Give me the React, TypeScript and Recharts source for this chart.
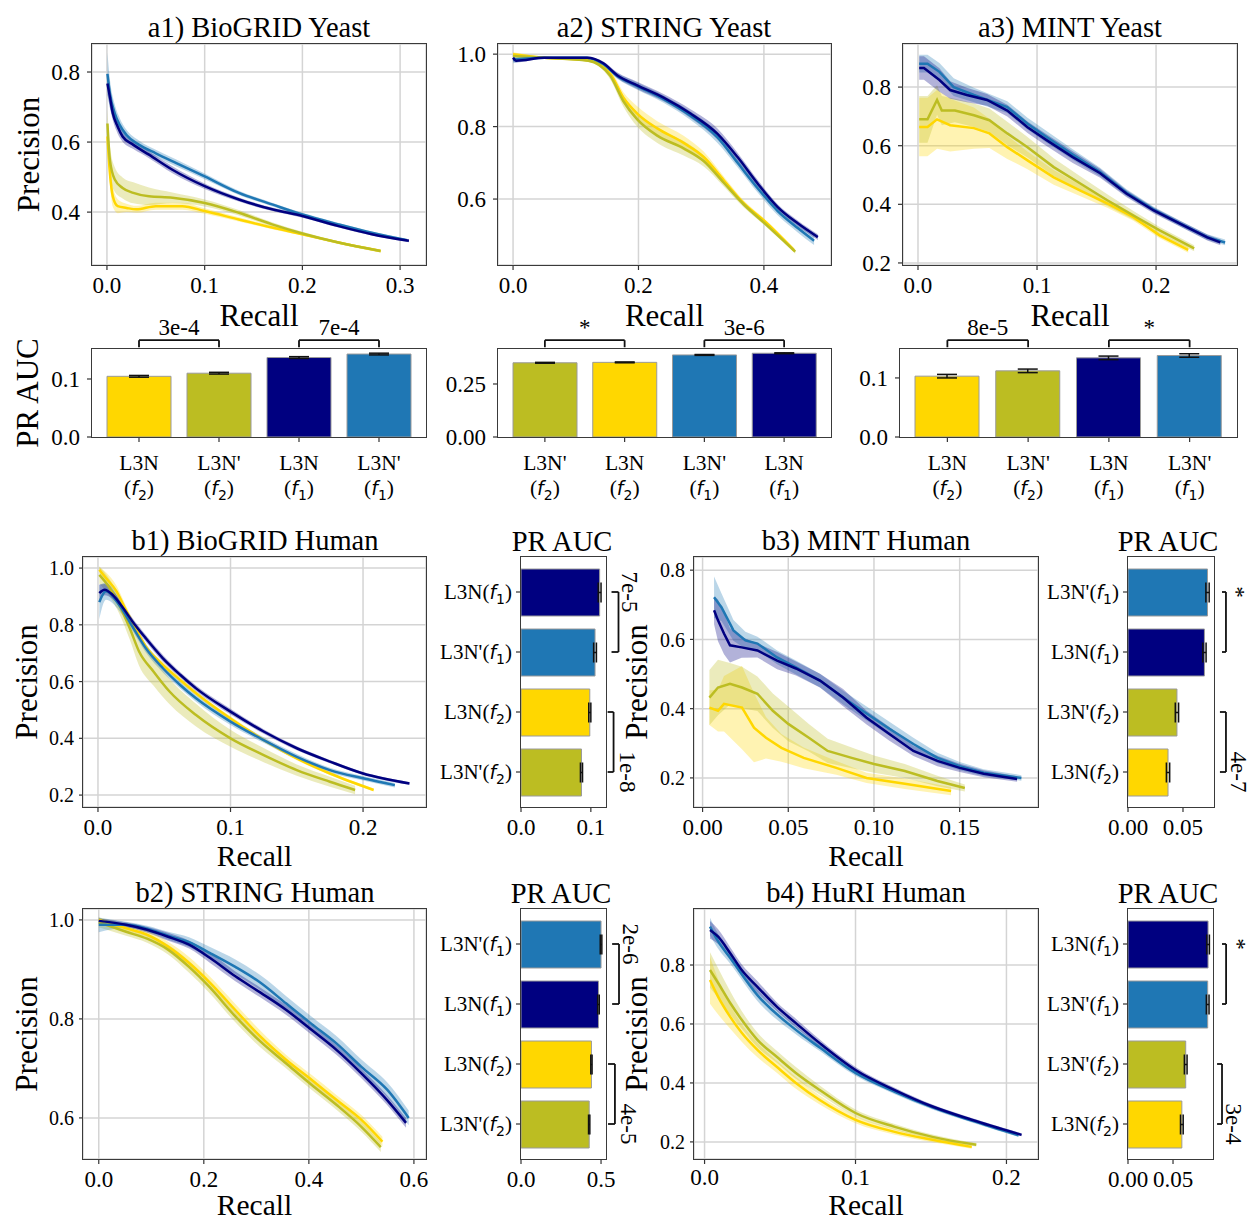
import React from 'react';
import {
  ComposedChart, BarChart, Bar, Line, Area, XAxis, YAxis, CartesianGrid, Cell,
  ErrorBar, ReferenceLine, ReferenceDot,
} from 'recharts';

const FONT = '"Liberation Serif", "Times New Roman", Times, serif';
const MATH = '"DejaVu Sans", sans-serif';

const COLOR: Record<string, string> = {
  "L3N(f1)": '#000080',
  "L3N'(f1)": '#1f77b4',
  "L3N(f2)": '#ffd700',
  "L3N'(f2)": '#bcbd22',
};
// drawing order of the curves (last one on top)
const DRAW_ORDER = ["L3N(f2)", "L3N'(f2)", "L3N'(f1)", "L3N(f1)"];

type Pt = [number, number, number]; // recall, precision, std

// --- a1) BioGRID Yeast ---
const a1_L3N_f2: Pt[] = [[0.0005, 0.616, 0.03], [0.003, 0.512, 0.03], [0.006, 0.445, 0.03], [0.011, 0.417, 0.02], [0.02, 0.412, 0.012], [0.03, 0.408, 0.01], [0.05, 0.417, 0.01], [0.077, 0.417, 0.01], [0.1, 0.403, 0.008], [0.135, 0.379, 0.006], [0.169, 0.356, 0.005], [0.2, 0.337, 0.004], [0.237, 0.313, 0.004], [0.28, 0.289, 0.004]];
const a1_L3Np_f2: Pt[] = [[0.0005, 0.653, 0.04], [0.003, 0.549, 0.04], [0.008, 0.493, 0.035], [0.016, 0.469, 0.03], [0.027, 0.455, 0.03], [0.043, 0.445, 0.025], [0.067, 0.441, 0.015], [0.1, 0.426, 0.01], [0.135, 0.398, 0.008], [0.169, 0.365, 0.006], [0.2, 0.339, 0.005], [0.237, 0.313, 0.004], [0.28, 0.289, 0.004]];
const a1_L3N_f1: Pt[] = [[0.0005, 0.767, 0.03], [0.003, 0.729, 0.03], [0.006, 0.682, 0.02], [0.011, 0.644, 0.02], [0.016, 0.616, 0.015], [0.027, 0.592, 0.012], [0.043, 0.564, 0.01], [0.067, 0.521, 0.01], [0.1, 0.474, 0.008], [0.135, 0.436, 0.006], [0.169, 0.408, 0.005], [0.2, 0.389, 0.005], [0.237, 0.36, 0.004], [0.271, 0.337, 0.004], [0.309, 0.318, 0.004]];
const a1_L3Np_f1: Pt[] = [[0.0005, 0.795, 0.06], [0.003, 0.739, 0.04], [0.008, 0.682, 0.025], [0.013, 0.649, 0.02], [0.02, 0.62, 0.015], [0.033, 0.592, 0.012], [0.05, 0.568, 0.01], [0.071, 0.54, 0.01], [0.1, 0.502, 0.008], [0.135, 0.455, 0.006], [0.169, 0.422, 0.005], [0.2, 0.393, 0.005], [0.237, 0.365, 0.004], [0.271, 0.341, 0.004], [0.307, 0.32, 0.004]];

// --- a2) STRING Yeast ---
const a2_L3N_f2: Pt[] = [[0, 1.0, 0.005], [0.05, 0.99, 0.003], [0.12, 0.983, 0.004], [0.155, 0.946, 0.01], [0.176, 0.88, 0.015], [0.198, 0.836, 0.02], [0.23, 0.795, 0.02], [0.272, 0.755, 0.02], [0.304, 0.716, 0.015], [0.336, 0.652, 0.01], [0.368, 0.588, 0.008], [0.4, 0.541, 0.006], [0.448, 0.459, 0.006]];
const a2_L3Np_f2: Pt[] = [[0, 0.995, 0.005], [0.05, 0.99, 0.003], [0.12, 0.982, 0.004], [0.155, 0.94, 0.01], [0.176, 0.87, 0.015], [0.198, 0.82, 0.02], [0.23, 0.775, 0.02], [0.272, 0.74, 0.02], [0.304, 0.705, 0.015], [0.336, 0.645, 0.01], [0.368, 0.585, 0.008], [0.4, 0.535, 0.006], [0.45, 0.455, 0.006]];
const a2_L3N_f1: Pt[] = [[0, 0.99, 0.01], [0.005, 0.982, 0.005], [0.05, 0.99, 0.003], [0.118, 0.99, 0.003], [0.144, 0.975, 0.005], [0.166, 0.942, 0.008], [0.198, 0.914, 0.01], [0.24, 0.88, 0.01], [0.283, 0.836, 0.012], [0.326, 0.78, 0.015], [0.358, 0.716, 0.012], [0.39, 0.643, 0.01], [0.422, 0.578, 0.008], [0.454, 0.533, 0.008], [0.486, 0.495, 0.008]];
const a2_L3Np_f1: Pt[] = [[0, 0.985, 0.01], [0.05, 0.99, 0.003], [0.118, 0.99, 0.003], [0.144, 0.972, 0.005], [0.166, 0.94, 0.008], [0.198, 0.912, 0.01], [0.24, 0.876, 0.01], [0.283, 0.83, 0.012], [0.326, 0.77, 0.015], [0.358, 0.7, 0.012], [0.39, 0.63, 0.012], [0.422, 0.567, 0.012], [0.454, 0.52, 0.012], [0.48, 0.485, 0.012]];

// --- a3) MINT Yeast ---
const a3_L3N_f2: Pt[] = [[0.001, 0.664, 0.1], [0.008, 0.664, 0.1], [0.016, 0.69, 0.1], [0.027, 0.67, 0.09], [0.047, 0.66, 0.07], [0.06, 0.642, 0.05], [0.075, 0.595, 0.04], [0.092, 0.55, 0.03], [0.114, 0.492, 0.025], [0.136, 0.448, 0.02], [0.159, 0.403, 0.015], [0.181, 0.356, 0.012], [0.203, 0.294, 0.01], [0.227, 0.245, 0.01]];
const a3_L3Np_f2: Pt[] = [[0.001, 0.69, 0.08], [0.008, 0.69, 0.08], [0.016, 0.756, 0.05], [0.02, 0.72, 0.05], [0.031, 0.72, 0.04], [0.047, 0.704, 0.04], [0.06, 0.687, 0.04], [0.075, 0.642, 0.04], [0.092, 0.595, 0.035], [0.114, 0.527, 0.03], [0.136, 0.472, 0.025], [0.159, 0.414, 0.02], [0.181, 0.362, 0.015], [0.203, 0.311, 0.012], [0.232, 0.25, 0.01]];
const a3_L3N_f1: Pt[] = [[0.001, 0.865, 0.04], [0.005, 0.865, 0.04], [0.018, 0.824, 0.04], [0.027, 0.79, 0.03], [0.041, 0.773, 0.025], [0.058, 0.756, 0.02], [0.075, 0.72, 0.02], [0.092, 0.663, 0.02], [0.108, 0.619, 0.02], [0.13, 0.561, 0.02], [0.153, 0.506, 0.015], [0.175, 0.437, 0.012], [0.198, 0.379, 0.01], [0.22, 0.334, 0.01], [0.243, 0.287, 0.01], [0.254, 0.27, 0.01]];
const a3_L3Np_f1: Pt[] = [[0.001, 0.88, 0.03], [0.008, 0.88, 0.03], [0.018, 0.852, 0.03], [0.03, 0.8, 0.03], [0.047, 0.773, 0.025], [0.075, 0.732, 0.02], [0.092, 0.675, 0.02], [0.108, 0.63, 0.02], [0.13, 0.57, 0.018], [0.153, 0.51, 0.015], [0.175, 0.44, 0.012], [0.198, 0.382, 0.01], [0.22, 0.335, 0.01], [0.243, 0.288, 0.01], [0.258, 0.27, 0.01]];

// --- b1) BioGRID Human ---
const b1_L3N_f2: Pt[] = [[0.001, 0.994, 0.01], [0.006, 0.965, 0.02], [0.014, 0.918, 0.02], [0.021, 0.853, 0.015], [0.029, 0.782, 0.012], [0.036, 0.724, 0.01], [0.049, 0.659, 0.01], [0.062, 0.606, 0.01], [0.074, 0.559, 0.008], [0.1, 0.47, 0.008], [0.125, 0.394, 0.006], [0.15, 0.329, 0.006], [0.175, 0.276, 0.005], [0.208, 0.218, 0.005]];
const b1_L3Np_f2: Pt[] = [[0.001, 0.976, 0.03], [0.009, 0.929, 0.03], [0.016, 0.87, 0.03], [0.024, 0.788, 0.04], [0.031, 0.706, 0.05], [0.042, 0.635, 0.05], [0.054, 0.565, 0.045], [0.074, 0.482, 0.04], [0.1, 0.4, 0.03], [0.125, 0.341, 0.025], [0.15, 0.288, 0.02], [0.175, 0.247, 0.018], [0.194, 0.218, 0.015]];
const b1_L3N_f1: Pt[] = [[0.001, 0.912, 0.03], [0.005, 0.924, 0.02], [0.011, 0.906, 0.015], [0.019, 0.859, 0.012], [0.026, 0.812, 0.012], [0.036, 0.753, 0.012], [0.049, 0.682, 0.012], [0.062, 0.624, 0.01], [0.074, 0.576, 0.01], [0.1, 0.494, 0.01], [0.125, 0.424, 0.008], [0.15, 0.365, 0.007], [0.175, 0.318, 0.006], [0.2, 0.276, 0.005], [0.235, 0.241, 0.005]];
const b1_L3Np_f1: Pt[] = [[0.001, 0.88, 0.06], [0.006, 0.918, 0.03], [0.016, 0.87, 0.02], [0.026, 0.794, 0.015], [0.036, 0.718, 0.015], [0.049, 0.647, 0.015], [0.062, 0.588, 0.012], [0.074, 0.541, 0.012], [0.1, 0.459, 0.012], [0.125, 0.394, 0.01], [0.15, 0.335, 0.01], [0.175, 0.288, 0.008], [0.2, 0.259, 0.008], [0.224, 0.235, 0.008]];

// --- b2) STRING Human ---
const b2_L3N_f2: Pt[] = [[0, 1.0, 0.005], [0.052, 0.983, 0.008], [0.092, 0.97, 0.008], [0.132, 0.946, 0.01], [0.172, 0.913, 0.012], [0.212, 0.873, 0.012], [0.26, 0.818, 0.012], [0.308, 0.764, 0.012], [0.357, 0.717, 0.01], [0.405, 0.677, 0.01], [0.453, 0.636, 0.01], [0.5, 0.596, 0.01], [0.54, 0.552, 0.01]];
const b2_L3Np_f2: Pt[] = [[0, 0.995, 0.01], [0.052, 0.976, 0.008], [0.092, 0.962, 0.008], [0.132, 0.94, 0.01], [0.172, 0.905, 0.012], [0.212, 0.863, 0.012], [0.26, 0.805, 0.012], [0.308, 0.754, 0.012], [0.357, 0.71, 0.01], [0.405, 0.667, 0.01], [0.453, 0.626, 0.01], [0.5, 0.582, 0.01], [0.537, 0.541, 0.01]];
const b2_L3N_f1: Pt[] = [[0, 0.998, 0.005], [0.052, 0.99, 0.005], [0.092, 0.98, 0.006], [0.132, 0.966, 0.008], [0.172, 0.95, 0.008], [0.212, 0.923, 0.01], [0.26, 0.886, 0.01], [0.308, 0.853, 0.01], [0.357, 0.818, 0.01], [0.405, 0.778, 0.01], [0.453, 0.737, 0.01], [0.5, 0.69, 0.01], [0.549, 0.636, 0.01], [0.585, 0.59, 0.01]];
const b2_L3Np_f1: Pt[] = [[0, 0.99, 0.015], [0.052, 0.99, 0.006], [0.092, 0.982, 0.006], [0.132, 0.968, 0.008], [0.172, 0.955, 0.01], [0.212, 0.933, 0.012], [0.26, 0.905, 0.015], [0.308, 0.873, 0.015], [0.357, 0.831, 0.015], [0.405, 0.79, 0.015], [0.453, 0.75, 0.015], [0.5, 0.703, 0.015], [0.549, 0.657, 0.015], [0.59, 0.6, 0.015]];

// --- b3) MINT Human ---
const b3_L3N_f2: Pt[] = [[0.004, 0.403, 0.05], [0.009, 0.394, 0.06], [0.0125, 0.414, 0.08], [0.023, 0.403, 0.12], [0.03, 0.345, 0.1], [0.037, 0.316, 0.06], [0.046, 0.287, 0.04], [0.059, 0.258, 0.03], [0.078, 0.229, 0.02], [0.0957, 0.2, 0.015], [0.118, 0.183, 0.015], [0.145, 0.162, 0.012]];
const b3_L3Np_f2: Pt[] = [[0.004, 0.432, 0.08], [0.009, 0.461, 0.08], [0.016, 0.472, 0.06], [0.023, 0.461, 0.06], [0.032, 0.443, 0.05], [0.041, 0.394, 0.05], [0.05, 0.356, 0.05], [0.062, 0.316, 0.04], [0.073, 0.278, 0.035], [0.087, 0.258, 0.03], [0.1, 0.24, 0.025], [0.118, 0.22, 0.02], [0.137, 0.191, 0.015], [0.153, 0.171, 0.01]];
const b3_L3N_f1: Pt[] = [[0.0067, 0.684, 0.04], [0.009, 0.655, 0.06], [0.0125, 0.617, 0.06], [0.016, 0.583, 0.05], [0.0228, 0.577, 0.03], [0.032, 0.568, 0.02], [0.0435, 0.539, 0.025], [0.0545, 0.516, 0.02], [0.0685, 0.481, 0.02], [0.082, 0.432, 0.025], [0.0957, 0.374, 0.02], [0.109, 0.327, 0.02], [0.123, 0.278, 0.015], [0.137, 0.249, 0.015], [0.15, 0.229, 0.012], [0.164, 0.212, 0.01], [0.1835, 0.197, 0.008]];
const b3_L3Np_f1: Pt[] = [[0.0067, 0.722, 0.06], [0.011, 0.693, 0.04], [0.018, 0.626, 0.03], [0.025, 0.597, 0.025], [0.032, 0.588, 0.02], [0.0435, 0.548, 0.02], [0.0545, 0.519, 0.02], [0.0685, 0.481, 0.02], [0.082, 0.432, 0.02], [0.0957, 0.386, 0.02], [0.109, 0.342, 0.02], [0.123, 0.298, 0.018], [0.137, 0.258, 0.015], [0.15, 0.234, 0.012], [0.164, 0.215, 0.01], [0.186, 0.2, 0.008]];

// --- b4) HuRI Human ---
const b4_L3N_f2: Pt[] = [[0.0036, 0.749, 0.08], [0.009, 0.692, 0.06], [0.017, 0.624, 0.04], [0.0246, 0.57, 0.03], [0.035, 0.512, 0.025], [0.048, 0.454, 0.02], [0.0605, 0.4, 0.02], [0.0763, 0.342, 0.015], [0.1, 0.275, 0.012], [0.126, 0.234, 0.01], [0.151, 0.207, 0.008], [0.177, 0.183, 0.006]];
const b4_L3Np_f2: Pt[] = [[0.0036, 0.783, 0.06], [0.009, 0.739, 0.05], [0.017, 0.671, 0.04], [0.0246, 0.614, 0.03], [0.035, 0.546, 0.025], [0.048, 0.488, 0.02], [0.0605, 0.434, 0.02], [0.0763, 0.376, 0.015], [0.1, 0.298, 0.012], [0.126, 0.251, 0.01], [0.151, 0.217, 0.008], [0.18, 0.19, 0.006]];
const b4_L3N_f1: Pt[] = [[0.0036, 0.919, 0.03], [0.009, 0.896, 0.025], [0.017, 0.84, 0.02], [0.0246, 0.783, 0.02], [0.035, 0.726, 0.02], [0.048, 0.658, 0.015], [0.0605, 0.603, 0.015], [0.0763, 0.535, 0.012], [0.1, 0.444, 0.01], [0.126, 0.376, 0.008], [0.151, 0.32, 0.007], [0.177, 0.275, 0.006], [0.21, 0.224, 0.005]];
const b4_L3Np_f1: Pt[] = [[0.0036, 0.93, 0.03], [0.009, 0.88, 0.025], [0.017, 0.824, 0.02], [0.035, 0.698, 0.02], [0.0605, 0.58, 0.015], [0.0763, 0.52, 0.012], [0.1, 0.434, 0.01], [0.126, 0.37, 0.008], [0.151, 0.317, 0.007], [0.177, 0.272, 0.006], [0.208, 0.222, 0.005]];

// --- PR AUC bars ---
const a1Methods = ["L3N(f2)", "L3N'(f2)", "L3N(f1)", "L3N'(f1)"];
const a1Auc = [0.1046, 0.110, 0.137, 0.143];
const a1AucErr = [0.0015, 0.0015, 0.0015, 0.0015];
const a1Pvals = ['3e-4', '7e-4'];

const a2Methods = ["L3N'(f2)", "L3N(f2)", "L3N'(f1)", "L3N(f1)"];
const a2Auc = [0.350, 0.352, 0.387, 0.395];
const a2AucErr = [0.002, 0.002, 0.002, 0.002];
const a2Pvals = ['*', '3e-6'];

const a3Methods = ["L3N(f2)", "L3N'(f2)", "L3N(f1)", "L3N'(f1)"];
const a3Auc = [0.103, 0.112, 0.134, 0.138];
const a3AucErr = [0.003, 0.003, 0.003, 0.003];
const a3Pvals = ['8e-5', '*'];

const b1Methods = ["L3N(f1)", "L3N'(f1)", "L3N(f2)", "L3N'(f2)"];
const b1Auc = [0.1126, 0.106, 0.0985, 0.0866];
const b1AucErr = [0.002, 0.002, 0.0015, 0.0015];
const b1Pvals = ['7e-5', '1e-8'];

const b2Methods = ["L3N'(f1)", "L3N(f1)", "L3N(f2)", "L3N'(f2)"];
const b2Auc = [0.5, 0.484, 0.44, 0.426];
const b2AucErr = [0.005, 0.005, 0.004, 0.004];
const b2Pvals = ['2e-6', '4e-5'];

const b3Methods = ["L3N'(f1)", "L3N(f1)", "L3N'(f2)", "L3N(f2)"];
const b3Auc = [0.0723, 0.0695, 0.0445, 0.0364];
const b3AucErr = [0.0015, 0.0015, 0.0015, 0.0015];
const b3Pvals = ['*', '4e-7'];

const b4Methods = ["L3N(f1)", "L3N'(f1)", "L3N'(f2)", "L3N(f2)"];
const b4Auc = [0.0889, 0.0885, 0.0641, 0.0598];
const b4AucErr = [0.0015, 0.0015, 0.0015, 0.0015];
const b4Pvals = ['*', '3e-4'];

// --- tick values ---
const a1XTicks = [0, 0.1, 0.2, 0.3];
const a1YTicks = [0.4, 0.6, 0.8];
const a2XTicks = [0, 0.2, 0.4];
const a2YTicks = [0.6, 0.8, 1.0];
const a3XTicks = [0, 0.1, 0.2];
const a3YTicks = [0.2, 0.4, 0.6, 0.8];
const b1XTicks = [0, 0.1, 0.2];
const b1YTicks = [0.2, 0.4, 0.6, 0.8, 1.0];
const b2XTicks = [0, 0.2, 0.4, 0.6];
const b2YTicks = [0.6, 0.8, 1.0];
const b3XTicks = [0, 0.05, 0.1, 0.15];
const b3YTicks = [0.2, 0.4, 0.6, 0.8];
const b4XTicks = [0, 0.1, 0.2];
const b4YTicks = [0.2, 0.4, 0.6, 0.8];
const aucTicks01 = [0, 0.1];
const aucTicks025 = [0, 0.25];
const aucTicks05 = [0, 0.5];
const aucTicks005 = [0, 0.05];

const buildRows = (series: Record<string, Pt[]>) => {
  const rows: any[] = [];
  DRAW_ORDER.forEach((name, i) => {
    (series[name] || []).forEach(([x, y, sd]) => rows.push({ x, [`m${i}`]: y, [`b${i}`]: [y - sd, y + sd] }));
  });
  return rows.sort((a, b) => a.x - b.x);
};

const splitMethod = (m: string) => {
  const i = m.indexOf('(');
  return [m.slice(0, i), m.slice(i + 2, m.length - 1)];
};

const Title = ({ x, y, children, size = 28.5 }: any) => (
  <div style={{ position: 'absolute', left: x, top: y, transform: 'translate(-50%,-50%)', fontFamily: FONT, fontSize: size, whiteSpace: 'nowrap', lineHeight: 1 }}>
    {children}
  </div>
);

const Frame = ({ box }: { box: number[] }) => {
  const [l, t, r, b] = box;
  return <div style={{ position: 'absolute', left: l - 0.75, top: t - 0.75, width: r - l + 1.5, height: b - t + 1.5, border: '1.5px solid #3a3a3a', boxSizing: 'border-box', pointerEvents: 'none' }} />;
};

const TwoLineTick = (props: any) => {
  const { x, y, payload } = props;
  const [base, k] = splitMethod(payload.value);
  return (
    <g>
      <text x={x} y={y + 26} textAnchor="middle" fontSize={21.5} fontFamily={FONT} fill="#000">{base}</text>
      <text x={x} y={y + 51} textAnchor="middle" fontSize={21.5} fontFamily={FONT} fill="#000">(<tspan fontFamily={MATH} fontStyle="italic" fontSize={19}>f</tspan><tspan fontFamily={MATH} fontSize={14} dy={5}>{k}</tspan><tspan dy={-5}>)</tspan></text>
    </g>
  );
};

const SideTick = (props: any) => {
  const { x, y, payload } = props;
  const [base, k] = splitMethod(payload.value);
  return (
    <text x={x} y={y + 7} textAnchor="end" fontSize={21} fontFamily={FONT} fill="#000">{base}(<tspan fontFamily={MATH} fontStyle="italic" fontSize={19}>f</tspan><tspan fontFamily={MATH} fontSize={14} dy={5}>{k}</tspan><tspan dy={-5}>)</tspan></text>
  );
};

const tickLine = { stroke: '#333', strokeWidth: 1.2 };
const AXIS_TITLE = 31;

function LinePanel({ cfg }: { cfg: any }) {
  const [l, t, r, b] = cfg.box;
  const mt = 8, mr = 8, pad = 6;
  const rows = buildRows(cfg.series);
  return (
    <div style={{ position: 'absolute', left: l - cfg.yw, top: t - mt }}>
      <ComposedChart width={cfg.yw + r - l + mr} height={mt + b - t + cfg.xh + pad} data={rows} margin={{ top: mt, right: mr, left: 0, bottom: 0 }}>
        <CartesianGrid stroke="#d4d4d4" strokeWidth={1.5} />
        <XAxis
          type="number" dataKey="x" domain={cfg.xDomain} ticks={cfg.xTicks} allowDataOverflow interval={0}
          tickFormatter={(v: number) => v.toFixed(cfg.xDigits)} height={cfg.xh + pad} axisLine={false}
          tickSize={5} tickMargin={cfg.xMargin} tickLine={tickLine}
          tick={{ fontSize: 23, fill: '#000', fontFamily: FONT }}
          label={{ value: 'Recall', position: 'insideBottom', offset: pad, fontSize: cfg.recallSize, fill: '#000', fontFamily: FONT }}
        />
        <YAxis
          type="number" domain={cfg.yDomain} ticks={cfg.yTicks} allowDataOverflow interval={0}
          tickFormatter={(v: number) => v.toFixed(1)} width={cfg.yw} axisLine={false}
          tickSize={cfg.ySize} tickMargin={cfg.yMargin} tickLine={tickLine}
          tick={{ fontSize: cfg.yFont, fill: '#000', fontFamily: FONT }}
          label={cfg.yLabelX != null ? { value: 'Precision', angle: -90, position: 'insideLeft', offset: cfg.yLabelX - (l - cfg.yw), fontSize: AXIS_TITLE, fill: '#000', fontFamily: FONT, style: { textAnchor: 'middle' } } : undefined}
        />
        {DRAW_ORDER.map((name, i) => (
          <Area key={`a${i}`} dataKey={(row: any) => row[`b${i}`] ?? [null, null]} type={cfg.curve} stroke="none"
            fill={COLOR[name]} fillOpacity={0.3} connectNulls isAnimationActive={false} activeDot={false} />
        ))}
        {DRAW_ORDER.map((name, i) => (
          <Line key={`l${i}`} dataKey={`m${i}`} type={cfg.curve} stroke={COLOR[name]} strokeWidth={2.5}
            dot={false} activeDot={false} connectNulls isAnimationActive={false} />
        ))}
      </ComposedChart>
    </div>
  );
}

const bracketStyle = { stroke: '#111', strokeWidth: 1.8, ifOverflow: 'visible' as const };

function BarPanelV({ cfg }: { cfg: any }) {
  const [l, t, r, b] = cfg.box;
  const mt = 36, mr = 8, xh = 72;
  const data = cfg.methods.map((m: string, i: number) => ({ method: m, auc: cfg.values[i], err: cfg.errs[i] }));
  const yLine = cfg.yMax * 1.1, yTick = cfg.yMax * 1.02;
  return (
    <div style={{ position: 'absolute', left: l - cfg.yw, top: t - mt }}>
      <BarChart width={cfg.yw + r - l + mr} height={mt + b - t + xh} data={data} margin={{ top: mt, right: mr, left: 0, bottom: 0 }}>
        <XAxis dataKey="method" type="category" interval={0} padding={{ left: 7, right: 7 }} height={xh} axisLine={false}
          tickSize={5} tickMargin={2} tickLine={tickLine} tick={(p: any) => <TwoLineTick {...p} />} />
        <YAxis type="number" domain={[0, cfg.yMax]} ticks={cfg.yTicks} allowDataOverflow interval={0}
          tickFormatter={(v: number) => v.toFixed(cfg.yDigits)} width={cfg.yw} axisLine={false}
          tickSize={5} tickMargin={7} tickLine={tickLine} tick={{ fontSize: 23, fill: '#000', fontFamily: FONT }}
          label={cfg.yLabelX != null ? { value: 'PR AUC', angle: -90, position: 'insideLeft', offset: cfg.yLabelX - (l - cfg.yw), fontSize: AXIS_TITLE, fill: '#000', fontFamily: FONT, style: { textAnchor: 'middle' } } : undefined}
        />
        <Bar dataKey="auc" barSize={64} stroke="#9a9a9a" strokeWidth={1} isAnimationActive={false}>
          {data.map((d: any) => <Cell key={d.method} fill={COLOR[d.method]} />)}
          <ErrorBar dataKey="err" direction="y" width={10} stroke="#111" strokeWidth={1.5} />
        </Bar>
        {cfg.pairs.flatMap(([i, j]: number[], k: number) => {
          const a = cfg.methods[i], c = cfg.methods[j];
          return [
            <ReferenceLine key={`h${k}`} segment={[{ x: a, y: yLine }, { x: c, y: yLine }]} {...bracketStyle}
              label={{ value: cfg.pvals[k], position: 'top', offset: 5, fontSize: 23, fill: '#000', fontFamily: FONT }} />,
            <ReferenceLine key={`la${k}`} segment={[{ x: a, y: yLine }, { x: a, y: yTick }]} {...bracketStyle} />,
            <ReferenceLine key={`lc${k}`} segment={[{ x: c, y: yLine }, { x: c, y: yTick }]} {...bracketStyle} />,
          ];
        })}
      </BarChart>
    </div>
  );
}

function BarPanelH({ cfg }: { cfg: any }) {
  const [l, t, r, b] = cfg.box;
  const mt = 5, xh = 44;
  const data = cfg.methods.map((m: string, i: number) => ({ method: m, auc: cfg.values[i], err: cfg.errs[i] }));
  return (
    <div style={{ position: 'absolute', left: l - cfg.yw, top: t - mt }}>
      <BarChart layout="vertical" width={cfg.yw + r - l + cfg.mr} height={mt + b - t + xh} data={data} margin={{ top: mt, right: cfg.mr, left: 0, bottom: 0 }}>
        <XAxis type="number" domain={[0, cfg.xMax]} ticks={cfg.xTicks} allowDataOverflow interval={0}
          tickFormatter={(v: number) => v.toFixed(cfg.xDigits)} height={xh} axisLine={false}
          tickSize={5} tickMargin={7} tickLine={tickLine} tick={{ fontSize: 23, fill: '#000', fontFamily: FONT }} />
        <YAxis type="category" dataKey="method" width={cfg.yw} interval={0} padding={{ top: 5, bottom: 5 }} axisLine={false}
          tickSize={5} tickMargin={4} tickLine={tickLine} tick={(p: any) => <SideTick {...p} />} />
        <Bar dataKey="auc" barSize={47} stroke="#9a9a9a" strokeWidth={1} isAnimationActive={false}>
          {data.map((d: any) => <Cell key={d.method} fill={COLOR[d.method]} />)}
          <ErrorBar dataKey="err" direction="x" width={10} stroke="#111" strokeWidth={1.5} />
        </Bar>
        {cfg.brackets.flatMap((bk: any, k: number) => {
          const a = cfg.methods[bk.pair[0]], c = cfg.methods[bk.pair[1]];
          const xl = cfg.xMax * bk.line, xt = cfg.xMax * bk.tick;
          return [
            <ReferenceLine key={`v${k}`} segment={[{ x: xl, y: a }, { x: xl, y: c }]} {...bracketStyle} />,
            <ReferenceLine key={`ta${k}`} segment={[{ x: xt, y: a }, { x: xl, y: a }]} {...bracketStyle} />,
            <ReferenceLine key={`tc${k}`} segment={[{ x: xt, y: c }, { x: xl, y: c }]} {...bracketStyle} />,
            <ReferenceDot key={`d${k}`} x={cfg.xMax * bk.label} y={cfg.methods[bk.at]} r={0} ifOverflow="visible" fill="none" stroke="none"
              label={{ value: cfg.pvals[k], position: 'center', angle: 90, fontSize: 23, fill: '#000', fontFamily: FONT }} />,
          ];
        })}
      </BarChart>
    </div>
  );
}

// --- panel configs ---
const aLine = { yw: 75, xh: 61, xDigits: 1, xMargin: 7, ySize: 5, yMargin: 7, yFont: 23, recallSize: 31 };
const bLine = { yw: 79, xMargin: 7, ySize: 4, yMargin: 5, yFont: 20, recallSize: 29.5 };

const a1Cfg = { ...aLine, yw: 92, box: [92, 44, 426, 265], xDomain: [-0.0153, 0.3265], yDomain: [0.249, 0.88], xTicks: a1XTicks, yTicks: a1YTicks, yLabelX: 28, curve: 'monotone',
  series: { "L3N(f2)": a1_L3N_f2, "L3N'(f2)": a1_L3Np_f2, "L3N'(f1)": a1_L3Np_f1, "L3N(f1)": a1_L3N_f1 } };
const a2Cfg = { ...aLine, box: [498, 44, 831, 265], xDomain: [-0.024, 0.507], yDomain: [0.418, 1.028], xTicks: a2XTicks, yTicks: a2YTicks, curve: 'monotone',
  series: { "L3N(f2)": a2_L3N_f2, "L3N'(f2)": a2_L3Np_f2, "L3N'(f1)": a2_L3Np_f1, "L3N(f1)": a2_L3N_f1 } };
const a3Cfg = { ...aLine, box: [903, 44, 1237, 265], xDomain: [-0.0126, 0.268], yDomain: [0.193, 0.947], xTicks: a3XTicks, yTicks: a3YTicks, curve: 'linear',
  series: { "L3N(f2)": a3_L3N_f2, "L3N'(f2)": a3_L3Np_f2, "L3N'(f1)": a3_L3Np_f1, "L3N(f1)": a3_L3N_f1 } };

const b1Cfg = { ...bLine, yw: 83, xh: 59, box: [83, 557, 426, 807], xDomain: [-0.0113, 0.2475], yDomain: [0.158, 1.039], xTicks: b1XTicks, yTicks: b1YTicks, xDigits: 1, yLabelX: 26, curve: 'monotone',
  series: { "L3N(f2)": b1_L3N_f2, "L3N'(f2)": b1_L3Np_f2, "L3N'(f1)": b1_L3Np_f1, "L3N(f1)": b1_L3N_f1 } };
const b2Cfg = { ...bLine, yw: 83, xh: 56, box: [83, 909, 426, 1159], xDomain: [-0.03, 0.623], yDomain: [0.517, 1.022], xTicks: b2XTicks, yTicks: b2YTicks, xDigits: 1, yLabelX: 26, curve: 'monotone',
  series: { "L3N(f2)": b2_L3N_f2, "L3N'(f2)": b2_L3Np_f2, "L3N'(f1)": b2_L3Np_f1, "L3N(f1)": b2_L3N_f1 } };
const b3Cfg = { ...bLine, xh: 59, box: [694, 557, 1038, 807], xDomain: [-0.005, 0.1957], yDomain: [0.116, 0.838], xTicks: b3XTicks, yTicks: b3YTicks, xDigits: 2, yLabelX: 636, curve: 'linear',
  series: { "L3N(f2)": b3_L3N_f2, "L3N'(f2)": b3_L3Np_f2, "L3N'(f1)": b3_L3Np_f1, "L3N(f1)": b3_L3N_f1 } };
const b4Cfg = { ...bLine, xh: 56, xMargin: 5, box: [694, 909, 1038, 1159], xDomain: [-0.007, 0.2209], yDomain: [0.142, 0.99], xTicks: b4XTicks, yTicks: b4YTicks, xDigits: 1, yLabelX: 636, curve: 'monotone',
  series: { "L3N(f2)": b4_L3N_f2, "L3N'(f2)": b4_L3Np_f2, "L3N'(f1)": b4_L3Np_f1, "L3N(f1)": b4_L3N_f1 } };

const pairs = [[0, 1], [2, 3]];
const a1Bar = { box: [92, 349, 426, 437], yw: 92, yLabelX: 27, methods: a1Methods, values: a1Auc, errs: a1AucErr, pvals: a1Pvals, yMax: 0.1517, yTicks: aucTicks01, yDigits: 1, pairs };
const a2Bar = { box: [498, 349, 831, 437], yw: 75, methods: a2Methods, values: a2Auc, errs: a2AucErr, pvals: a2Pvals, yMax: 0.415, yTicks: aucTicks025, yDigits: 2, pairs };
const a3Bar = { box: [900, 349, 1237, 437], yw: 75, methods: a3Methods, values: a3Auc, errs: a3AucErr, pvals: a3Pvals, yMax: 0.149, yTicks: aucTicks01, yDigits: 1, pairs };

const b1Bar = { box: [521, 557, 606, 807], yw: 91, mr: 42, methods: b1Methods, values: b1Auc, errs: b1AucErr, pvals: b1Pvals, xMax: 0.1217, xTicks: aucTicks01, xDigits: 1,
  brackets: [{ pair: [0, 1], line: 1.147, tick: 1.065, label: 1.287, at: 0 }, { pair: [2, 3], line: 1.089, tick: 1.019, label: 1.265, at: 3 }] };
const b2Bar = { box: [521, 909, 606, 1159], yw: 91, mr: 42, methods: b2Methods, values: b2Auc, errs: b2AucErr, pvals: b2Pvals, xMax: 0.531, xTicks: aucTicks05, xDigits: 1,
  brackets: [{ pair: [0, 1], line: 1.153, tick: 1.072, label: 1.294, at: 0 }, { pair: [2, 3], line: 1.105, tick: 1.024, label: 1.271, at: 3 }] };
const b3Bar = { box: [1128, 557, 1214, 807], yw: 98, mr: 38, methods: b3Methods, values: b3Auc, errs: b3AucErr, pvals: b3Pvals, xMax: 0.0782, xTicks: aucTicks005, xDigits: 2,
  brackets: [{ pair: [0, 1], line: 1.139, tick: 1.093, label: 1.275, at: 0 }, { pair: [2, 3], line: 1.139, tick: 1.069, label: 1.298, at: 3 }] };
const b4Bar = { box: [1128, 909, 1213, 1159], yw: 98, mr: 39, methods: b4Methods, values: b4Auc, errs: b4AucErr, pvals: b4Pvals, xMax: 0.0944, xTicks: aucTicks005, xDigits: 2,
  brackets: [{ pair: [0, 1], line: 1.154, tick: 1.106, label: 1.294, at: 0 }, { pair: [2, 3], line: 1.106, tick: 1.048, label: 1.246, at: 3 }] };

export default function App() {
  const lines = [a1Cfg, a2Cfg, a3Cfg, b1Cfg, b2Cfg, b3Cfg, b4Cfg];
  const vbars = [a1Bar, a2Bar, a3Bar];
  const hbars = [b1Bar, b2Bar, b3Bar, b4Bar];
  return (
    <div style={{ position: 'absolute', left: 0, top: 0, width: 1252, height: 1222, background: '#fff', color: '#000', overflow: 'hidden' }}>
      <Title x={259} y={28}>a1) BioGRID Yeast</Title>
      <Title x={664} y={28}>a2) STRING Yeast</Title>
      <Title x={1070} y={28}>a3) MINT Yeast</Title>
      <Title x={255} y={541}>b1) BioGRID Human</Title>
      <Title x={562} y={542}>PR AUC</Title>
      <Title x={866} y={541}>b3) MINT Human</Title>
      <Title x={1168} y={542}>PR AUC</Title>
      <Title x={255} y={893}>b2) STRING Human</Title>
      <Title x={561} y={894}>PR AUC</Title>
      <Title x={866} y={893}>b4) HuRI Human</Title>
      <Title x={1168} y={894}>PR AUC</Title>
      {lines.map((c, i) => <LinePanel key={`lp${i}`} cfg={c} />)}
      {vbars.map((c, i) => <BarPanelV key={`vb${i}`} cfg={c} />)}
      {hbars.map((c, i) => <BarPanelH key={`hb${i}`} cfg={c} />)}
      {[...lines, ...vbars, ...hbars].map((c, i) => <Frame key={`f${i}`} box={c.box} />)}
    </div>
  );
}
